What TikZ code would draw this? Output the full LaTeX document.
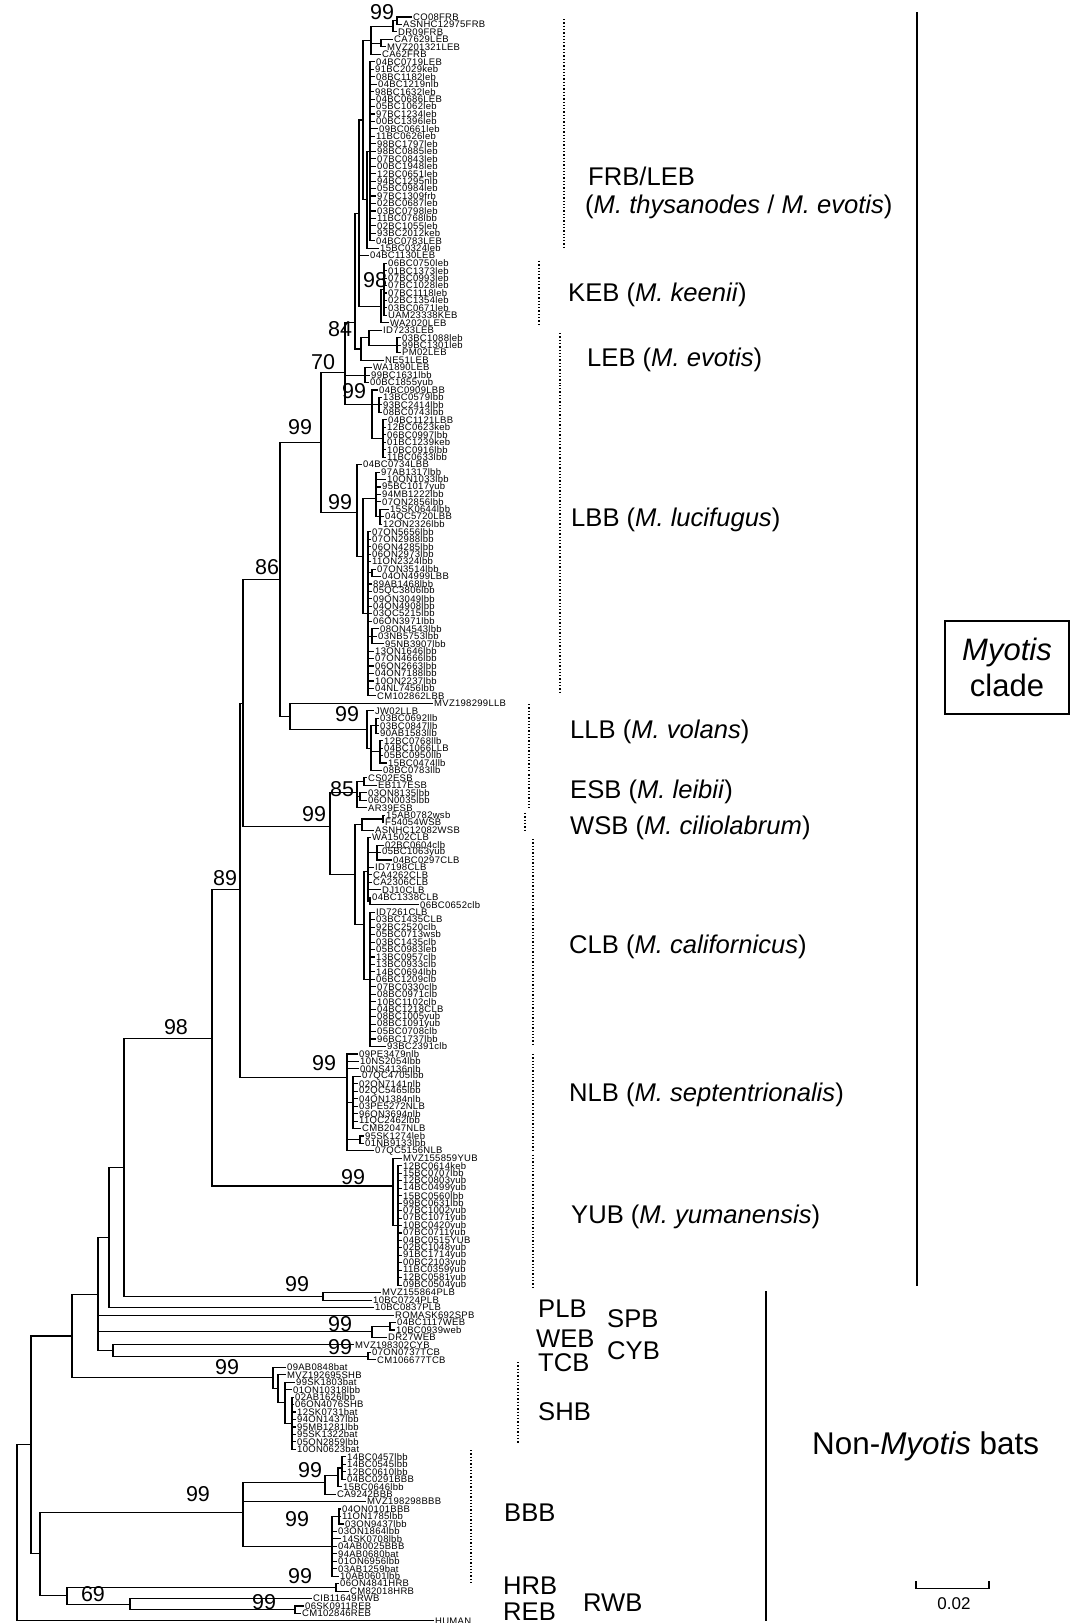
\documentclass[tikz,border=0pt]{standalone}
\usepackage{fontspec}
\setmainfont{Liberation Sans}
\newfontfamily\leaffont[LetterSpace=3]{Liberation Sans}
\tikzset{
  br/.style={line width=1.1pt},
  leaf/.style={anchor=west, inner xsep=1pt, inner ysep=0pt, font=\leaffont\fontsize{9.5}{9.5}\selectfont},
  boot/.style={inner sep=0pt, font=\fontsize{21.5}{21.5}\selectfont},
  clab/.style={anchor=west, inner sep=0pt, font=\fontsize{25.6}{25.6}\selectfont},
  dotline/.style={dotted, line width=1.3pt},
  vbar/.style={line width=1.6pt},
}
\newcommand\lf[3]{\coordinate (L#1) at ({#2-1},#1); \node[leaf] (T#1) at (L#1) {#3};}
\newcommand\kids[2]{\foreach \chn in {#2}{\draw[br] (#1) |- (\chn);}}
\newcommand\krange[3]{\foreach \kk in {#2,...,#3}{\draw[br] (#1) |- (L\kk);}}
\begin{document}
\begin{tikzpicture}[x=1pt,y=-7.46pt]
\useasboundingbox (0,-1.279) rectangle (1083,216.28);
% ---------------- leaves
\lf{1}{413}{CO08FRB}
\lf{2}{403}{ASNHC12975FRB}
\lf{3}{398}{DR09FRB}
\lf{4}{394}{CA7629LEB}
\lf{5}{387}{MVZ201321LEB}
\lf{6}{382}{CA62FRB}
\lf{7}{376}{04BC0719LEB}
\lf{8}{375}{91BC2029keb}
\lf{9}{376}{08BC1182leb}
\lf{10}{378}{04BC1219nlb}
\lf{11}{375}{98BC1632leb}
\lf{12}{376}{04BC0686LEB}
\lf{13}{376}{05BC1062leb}
\lf{14}{376}{97BC1234leb}
\lf{15}{376}{00BC1396leb}
\lf{16}{379}{09BC0661leb}
\lf{17}{376}{11BC0626leb}
\lf{18}{377}{98BC1797leb}
\lf{19}{377}{98BC0885leb}
\lf{20}{377}{07BC0843leb}
\lf{21}{377}{00BC1948leb}
\lf{22}{377}{12BC0651leb}
\lf{23}{377}{94BC1295nlb}
\lf{24}{377}{05BC0984leb}
\lf{25}{377}{97BC1309frb}
\lf{26}{377}{02BC0687leb}
\lf{27}{377}{03BC0798leb}
\lf{28}{377}{11BC0768lbb}
\lf{29}{377}{02BC1055leb}
\lf{30}{377}{93BC2012keb}
\lf{31}{376}{04BC0783LEB}
\lf{32}{380}{15BC0324leb}
\lf{33}{370}{04BC1130LEB}
\lf{34}{388}{06BC0750leb}
\lf{35}{388}{01BC1373leb}
\lf{36}{388}{07BC0993leb}
\lf{37}{388}{07BC1028leb}
\lf{38}{388}{07BC1118leb}
\lf{39}{388}{02BC1354leb}
\lf{40}{388}{03BC0671leb}
\lf{41}{388}{UAM23338KEB}
\lf{42}{390}{WA2020LEB}
\lf{43}{383}{ID7233LEB}
\lf{44}{402}{03BC1088leb}
\lf{45}{402}{99BC1301leb}
\lf{46}{402}{PM02LEB}
\lf{47}{385}{NE51LEB}
\lf{48}{373}{WA1890LEB}
\lf{49}{371}{99BC1631lbb}
\lf{50}{370}{00BC1855yub}
\lf{51}{379}{04BC0909LBB}
\lf{52}{383}{13BC0579lbb}
\lf{53}{383}{93BC2414lbb}
\lf{54}{383}{08BC0743lbb}
\lf{55}{388}{04BC1121LBB}
\lf{56}{387}{12BC0623keb}
\lf{57}{387}{06BC0997lbb}
\lf{58}{387}{01BC1239keb}
\lf{59}{387}{10BC0916lbb}
\lf{60}{387}{11BC0633lbb}
\lf{61}{363}{04BC0734LBB}
\lf{62}{381}{97AB1317lbb}
\lf{63}{387}{10ON1033lbb}
\lf{64}{382}{95BC1017yub}
\lf{65}{382}{94MB1222lbb}
\lf{66}{382}{07ON2856lbb}
\lf{67}{390}{15SK0644lbb}
\lf{68}{385}{04QC5720LBB}
\lf{69}{383}{12ON2326lbb}
\lf{70}{372}{07ON5656lbb}
\lf{71}{372}{07ON2988lbb}
\lf{72}{372}{06ON4285lbb}
\lf{73}{372}{06ON2973lbb}
\lf{74}{372}{11ON2324lbb}
\lf{75}{377}{07ON3514lbb}
\lf{76}{382}{04ON4999LBB}
\lf{77}{373}{89AB1468lbb}
\lf{78}{373}{05QC3806lbb}
\lf{79}{373}{09ON3049lbb}
\lf{80}{373}{04ON4908lbb}
\lf{81}{373}{03QC5215lbb}
\lf{82}{373}{06ON3971lbb}
\lf{83}{380}{08ON4543lbb}
\lf{84}{378}{03NB5753lbb}
\lf{85}{385}{95NB3907lbb}
\lf{86}{375}{13ON1646lbb}
\lf{87}{375}{07ON4666lbb}
\lf{88}{375}{06ON2663lbb}
\lf{89}{375}{04ON7188lbb}
\lf{90}{375}{10ON2237lbb}
\lf{91}{375}{04NL7456lbb}
\lf{92}{377}{CM102862LBB}
\lf{93}{434}{MVZ198299LLB}
\lf{94}{375}{JW02LLB}
\lf{95}{380}{03BC0692llb}
\lf{96}{380}{03BC0847llb}
\lf{97}{380}{90AB1583llb}
\lf{98}{384}{12BC0768llb}
\lf{99}{384}{04BC1066LLB}
\lf{100}{384}{05BC0950llb}
\lf{101}{388}{15BC0474llb}
\lf{102}{383}{08BC0783llb}
\lf{103}{368}{CS02ESB}
\lf{104}{378}{EB117ESB}
\lf{105}{368}{03ON8135lbb}
\lf{106}{368}{06ON0035lbb}
\lf{107}{368}{AR39ESB}
\lf{108}{386}{15AB0782wsb}
\lf{109}{385}{F54054WSB}
\lf{110}{375}{ASNHC12082WSB}
\lf{111}{372}{WA1502CLB}
\lf{112}{385}{02BC0604clb}
\lf{113}{382}{05BC1063yub}
\lf{114}{393}{04BC0297CLB}
\lf{115}{375}{ID7198CLB}
\lf{116}{373}{CA4262CLB}
\lf{117}{373}{CA2306CLB}
\lf{118}{382}{DJ10CLB}
\lf{119}{372}{04BC1338CLB}
\lf{120}{420}{06BC0652clb}
\lf{121}{376}{ID7261CLB}
\lf{122}{376}{03BC1435CLB}
\lf{123}{376}{92BC2520clb}
\lf{124}{376}{05BC0713wsb}
\lf{125}{376}{03BC1435clb}
\lf{126}{376}{05BC0983leb}
\lf{127}{376}{13BC0957clb}
\lf{128}{376}{13BC0933clb}
\lf{129}{376}{14BC0694lbb}
\lf{130}{376}{06BC1209clb}
\lf{131}{377}{07BC0330clb}
\lf{132}{377}{08BC0971clb}
\lf{133}{377}{10BC1102clb}
\lf{134}{377}{04BC1218CLB}
\lf{135}{377}{08BC1005yub}
\lf{136}{377}{08BC1091yub}
\lf{137}{377}{05BC0708clb}
\lf{138}{377}{96BC1737lbb}
\lf{139}{387}{93BC2391clb}
\lf{140}{359}{09PE3479nlb}
\lf{141}{360}{10NS2054lbb}
\lf{142}{360}{00NS4136nlb}
\lf{143}{362}{07QC4705lbb}
\lf{144}{359}{02ON7141nlb}
\lf{145}{359}{02QC5465lbb}
\lf{146}{359}{04ON1384nlb}
\lf{147}{359}{03PE5272NLB}
\lf{148}{359}{96ON3694nlb}
\lf{149}{359}{11QC2462lbb}
\lf{150}{362}{CMB2047NLB}
\lf{151}{365}{95SK1274leb}
\lf{152}{365}{01NB9133lbb}
\lf{153}{375}{07QC5156NLB}
\lf{154}{403}{MVZ155859YUB}
\lf{155}{403}{12BC0614keb}
\lf{156}{403}{15BC0707lbb}
\lf{157}{403}{12BC0803yub}
\lf{158}{403}{14BC0499yub}
\lf{159}{403}{15BC0560lbb}
\lf{160}{403}{99BC0631lbb}
\lf{161}{403}{07BC1002yub}
\lf{162}{403}{07BC1071yub}
\lf{163}{403}{10BC0420yub}
\lf{164}{403}{07BC0711yub}
\lf{165}{403}{04BC0515YUB}
\lf{166}{403}{02BC1048yub}
\lf{167}{403}{91BC1714yub}
\lf{168}{403}{00BC2103yub}
\lf{169}{403}{11BC0359yub}
\lf{170}{403}{12BC0581yub}
\lf{171}{403}{09BC0504yub}
\lf{172}{382}{MVZ155864PLB}
\lf{173}{373}{10BC0724PLB}
\lf{174}{375}{10BC0837PLB}
\lf{175}{395}{ROMASK692SPB}
\lf{176}{397}{04BC1117WEB}
\lf{177}{396}{10BC0939web}
\lf{178}{388}{DR27WEB}
\lf{179}{355}{MVZ198302CYB}
\lf{180}{372}{07ON0737TCB}
\lf{181}{377}{CM106677TCB}
\lf{182}{287}{09AB0848bat}
\lf{183}{287}{MVZ192695SHB}
\lf{184}{296}{99SK1803bat}
\lf{185}{293}{01ON10318lbb}
\lf{186}{295}{02AB1626lbb}
\lf{187}{295}{06ON4076SHB}
\lf{188}{297}{12SK0731bat}
\lf{189}{297}{94ON1437lbb}
\lf{190}{297}{95MB1281lbb}
\lf{191}{297}{95SK1322bat}
\lf{192}{297}{05ON2859lbb}
\lf{193}{297}{10ON0623bat}
\lf{194}{347}{14BC0457lbb}
\lf{195}{347}{14BC0545lbb}
\lf{196}{347}{12BC0610lbb}
\lf{197}{347}{04BC0291BBB}
\lf{198}{343}{15BC0646lbb}
\lf{199}{337}{CA9242BBB}
\lf{200}{367}{MVZ198298BBB}
\lf{201}{342}{04ON0101BBB}
\lf{202}{342}{11ON1785lbb}
\lf{203}{345}{03ON9437lbb}
\lf{204}{338}{03ON1864lbb}
\lf{205}{342}{14SK0708lbb}
\lf{206}{338}{04AB0025BBB}
\lf{207}{338}{94AB0680bat}
\lf{208}{338}{01ON6956lbb}
\lf{209}{338}{03AB1259bat}
\lf{210}{340}{10AB0601lbb}
\lf{211}{340}{06ON4841HRB}
\lf{212}{350}{CM82018HRB}
\lf{213}{313}{CIB11649RWB}
\lf{214}{305}{06SK0911REB}
\lf{215}{302}{CM102846REB}
\lf{216}{435}{HUMAN}
% ---------------- internal nodes
\coordinate (n1) at (397,1.5);
\coordinate (n2) at (393,2.25);
\coordinate (n3) at (381,4.5);
\coordinate (nA) at (371,4.1);
\coordinate (nC) at (370,19);
\coordinate (nD) at (367,25.5);
\coordinate (nFL) at (363,14.8);
\coordinate (nK1) at (384,37.5);
\coordinate (nK2) at (381,39.75);
\coordinate (nFK) at (359,27.3);
\coordinate (nL1) at (397,45);
\coordinate (nL2) at (369,44);
\coordinate (nL3) at (361,45.5);
\coordinate (nTop) at (355,42);
\coordinate (nB48) at (365,49);
\coordinate (nBa2) at (379,53);
\coordinate (nBa3) at (383,57.5);
\coordinate (nBa) at (372,53);
\coordinate (n70) at (345,48.6);
\coordinate (nBd2) at (380,68);
\coordinate (nBd) at (376,65.5);
\coordinate (nBe2) at (372,75.5);
\coordinate (nBe3) at (372,84);
\coordinate (nBe) at (368,81);
\coordinate (nBc) at (363,73.3);
\coordinate (nBb) at (357,67.4);
\coordinate (n99a) at (321,58);
\coordinate (nLLe) at (376,96);
\coordinate (nLLf) at (380,99.5);
\coordinate (nLLd) at (371,99);
\coordinate (nLLc) at (367,96.5);
\coordinate (nLL0) at (290,94.75);
\coordinate (n86) at (280,76.4);
\coordinate (nEa) at (364,103.5);
\coordinate (nEb) at (360,105.5);
\coordinate (nE) at (357,105);
\coordinate (nWa) at (383,108.5);
\coordinate (nW) at (362,109.2);
\coordinate (nCa) at (377,113);
\coordinate (nCe) at (370,119.5);
\coordinate (nCt) at (368,115.5);
\coordinate (nCb) at (370,130);
\coordinate (nCL) at (364,122.7);
\coordinate (nWC) at (355,116);
\coordinate (nESC) at (330,109.5);
\coordinate (nX) at (243,93);
\coordinate (nNa) at (353,146.5);
\coordinate (nNb) at (360,151.5);
\coordinate (nN) at (347,143.1);
\coordinate (n89) at (240,118);
\coordinate (nYa) at (398,163);
\coordinate (nY) at (393,157.7);
\coordinate (n98) at (212,137.9);
\coordinate (nP) at (323,172.5);
\coordinate (u124) at (124,155.2);
\coordinate (u109) at (109,164.6);
\coordinate (nWEa) at (390,176.5);
\coordinate (nWE) at (372,177.2);
\coordinate (nT) at (368,180.5);
\coordinate (nCT) at (113,179.75);
\coordinate (u98) at (98,172.2);
\coordinate (nSa) at (292,189.5);
\coordinate (nSb) at (285,186.75);
\coordinate (nSc) at (278,184.9);
\coordinate (nS) at (273,183.4);
\coordinate (u72) at (72,177.8);
\coordinate (nB1a) at (342,195.5);
\coordinate (nB1b) at (338,196.5);
\coordinate (nB1) at (325,197.5);
\coordinate (nB2a) at (339,202);
\coordinate (nB2) at (332,206);
\coordinate (nBB) at (243,201.5);
\coordinate (nH) at (336,211.5);
\coordinate (nR) at (295,214.5);
\coordinate (nRR) at (130,213.75);
\coordinate (n69) at (67,212.6);
\coordinate (n40) at (40,207);
\coordinate (nIN) at (31,192.4);
\coordinate (nRoot) at (17,204);
% ---------------- branches
\kids{n1}{L1,L2}
\kids{n2}{n1,L3}
\kids{n3}{L4,L5}
\kids{nA}{n2,n3,L6}
\krange{nC}{7}{31}
\kids{nD}{nC,L32}
\kids{nFL}{nA,nD}
\krange{nK1}{34}{41}
\kids{nK2}{nK1,L42}
\kids{nFK}{nFL,L33,nK2}
\kids{nL1}{L44,L45,L46}
\kids{nL2}{L43,nL1}
\kids{nL3}{nL2,L47}
\kids{nTop}{nFK,nL3}
\kids{nB48}{L48,L49,L50}
\kids{nBa2}{L52,L53,L54}
\krange{nBa3}{55}{60}
\kids{nBa}{L51,nBa2,nBa3}
\kids{n70}{nTop,nB48,nBa}
\kids{nBd2}{L67,L68,L69}
\kids{nBd}{L62,L63,L64,L65,L66,nBd2}
\kids{nBe2}{L75,L76}
\kids{nBe3}{L83,L84,L85}
\kids{nBe}{L70,L71,L72,L73,L74,nBe2,L77,L78,L79,L80,L81,L82,nBe3,L86,L87,L88,L89,L90,L91,L92}
\kids{nBc}{nBd,nBe}
\kids{nBb}{L61,nBc}
\kids{n99a}{n70,nBb}
\kids{nLLe}{L95,L96,L97}
\kids{nLLf}{L98,L99,L100,L101}
\kids{nLLd}{nLLe,nLLf,L102}
\kids{nLLc}{L94,nLLd}
\kids{nLL0}{L93,nLLc}
\kids{n86}{n99a,nLL0}
\kids{nEa}{L103,L104}
\kids{nEb}{L105,L106}
\kids{nE}{nEa,nEb,L107}
\kids{nWa}{L108,L109}
\kids{nW}{nWa,L110}
\kids{nCa}{L112,L113,L114}
\kids{nCe}{L119,L120}
\kids{nCt}{L111,nCa,L115,L116,L117,L118,nCe}
\krange{nCb}{121}{139}
\kids{nCL}{nCt,nCb}
\kids{nWC}{nW,nCL}
\kids{nESC}{nE,nWC}
\kids{nX}{n86,nESC}
\krange{nNa}{143}{150}
\kids{nNb}{L151,L152}
\kids{nN}{L140,L141,L142,nNa,nNb,L153}
\kids{n89}{nX,nN}
\krange{nYa}{155}{171}
\kids{nY}{L154,nYa}
\kids{n98}{n89,nY}
\kids{nP}{L172,L173}
\kids{u124}{n98,nP}
\kids{u109}{u124,L174}
\kids{nWEa}{L176,L177}
\kids{nWE}{nWEa,L178}
\kids{nT}{L180,L181}
\kids{nCT}{L179,nT}
\kids{u98}{u109,L175,nWE,nCT}
\krange{nSa}{186}{193}
\kids{nSb}{L184,L185,nSa}
\kids{nSc}{L183,nSb}
\kids{nS}{L182,nSc}
\kids{u72}{u98,nS}
\krange{nB1a}{194}{197}
\kids{nB1b}{nB1a,L198}
\kids{nB1}{nB1b,L199}
\kids{nB2a}{L201,L202,L203}
\kids{nB2}{nB2a,L204,L205,L206,L207,L208,L209,L210}
\kids{nBB}{nB1,L200,nB2}
\kids{nH}{L211,L212}
\kids{nR}{L214,L215}
\kids{nRR}{L213,nR}
\kids{n69}{nH,nRR}
\kids{n40}{nBB,n69}
\kids{nIN}{u72,n40}
\kids{nRoot}{nIN,L216}
% ---------------- bootstrap values
\node[boot] (b1) at (382,0.33) {99};
\node[boot] (b2) at (375,36.25) {98};
\node[boot] (b3) at (340,42.8) {84};
\node[boot] (b4) at (323,47.25) {70};
\node[boot] (b5) at (354,51.1) {99};
\node[boot] (b6) at (300,55.96) {99};
\node[boot] (b7) at (340,66.0) {99};
\node[boot] (b8) at (267,74.7) {86};
\node[boot] (b9) at (347,94.4) {99};
\node[boot] (b10) at (342,104.5) {85};
\node[boot] (b11) at (314,107.8) {99};
\node[boot] (b12) at (225,116.4) {89};
\node[boot] (b13) at (176,136.4) {98};
\node[boot] (b14) at (324,141.2) {99};
\node[boot] (b15) at (353,156.5) {99};
\node[boot] (b16) at (297,170.8) {99};
\node[boot] (b17) at (340,176.2) {99};
\node[boot] (b18) at (340,179.3) {99};
\node[boot] (b19) at (227,182.0) {99};
\node[boot] (b20) at (310,195.8) {99};
\node[boot] (b21) at (198,199.0) {99};
\node[boot] (b22) at (297,202.3) {99};
\node[boot] (b23) at (300,210.0) {99};
\node[boot] (b24) at (93,212.4) {69};
\node[boot] (b25) at (264,213.5) {99};
% ---------------- clade brackets
\draw[dotline] (564,1.27) -- (564,31.96);
\draw[dotline] (539,33.7) -- (539,42.15);
\draw[dotline] (560,43.36) -- (560,50.0);
\draw[dotline] (560,50.3) -- (560,91.75);
\draw[dotline] (529,93.1) -- (529,102.07);
\draw[dotline] (529,102.5) -- (529,107.0);
\draw[dotline] (525,107.7) -- (525,110.1);
\draw[dotline] (533,111.2) -- (533,138.7);
\draw[dotline] (533,140.0) -- (533,153.0);
\draw[dotline] (533,153.5) -- (533,171.5);
\draw[dotline] (518,181.3) -- (518,192.3);
\draw[dotline] (471,193.1) -- (471,211.0);
% ---------------- clade labels
\node[clab] (c1) at (588,22.3) {FRB/LEB};
\node[clab] (c1b) at (585,26.5) {(\textit{M. thysanodes} / \textit{M. evotis})};
\node[clab] (c2) at (568,38.3) {KEB (\textit{M. keenii})};
\node[clab] (c3) at (587,47.0) {LEB (\textit{M. evotis})};
\node[clab] (c4) at (571,68.4) {LBB (\textit{M. lucifugus})};
\node[clab] (c5) at (570,96.8) {LLB (\textit{M. volans})};
\node[clab] (c6) at (570,104.9) {ESB (\textit{M. leibii})};
\node[clab] (c7) at (570,109.7) {WSB (\textit{M. ciliolabrum})};
\node[clab] (c8) at (569,125.7) {CLB (\textit{M. californicus})};
\node[clab] (c9) at (569,145.5) {NLB (\textit{M. septentrionalis})};
\node[clab] (c10) at (571,161.9) {YUB (\textit{M. yumanensis})};
\node[clab] (c11) at (538,174.1) {PLB};
\node[clab] (c12) at (607,175.5) {SPB};
\node[clab] (c13) at (536,178.2) {WEB};
\node[clab] (c14) at (607,179.8) {CYB};
\node[clab] (c15) at (538,181.4) {TCB};
\node[clab] (c16) at (538,188.0) {SHB};
\node[clab] (c17) at (504,201.5) {BBB};
\node[clab] (c18) at (503,211.3) {HRB};
\node[clab] (c19) at (503,214.7) {REB};
\node[clab] (c20) at (583,213.5) {RWB};
% ---------------- groups
\draw[vbar] (917,0.33) -- (917,171.1);
\draw[vbar] (766,171.8) -- (766,216.0);
\node[draw, line width=1.2pt, minimum width=124pt, minimum height=93pt, align=center,
      font=\fontsize{31}{36}\selectfont] (myo) at (1007,88.2) {\textit{Myotis}\\clade};
\node[clab, font=\fontsize{31.4}{31.4}\selectfont] (non) at (812,192.6) {Non-\textit{Myotis} bats};
% ---------------- scale bar
\coordinate (sb1) at (916,211.6);
\coordinate (sb2) at (989,211.6);
\draw[line width=1.2pt] ([yshift=7pt]sb1) -- (sb1) -- (sb2) -- ([yshift=7pt]sb2);
\node[inner sep=0pt, font=\fontsize{17}{17}\selectfont] (sbl) at (954,213.7) {0.02};
\end{tikzpicture}
\end{document}
